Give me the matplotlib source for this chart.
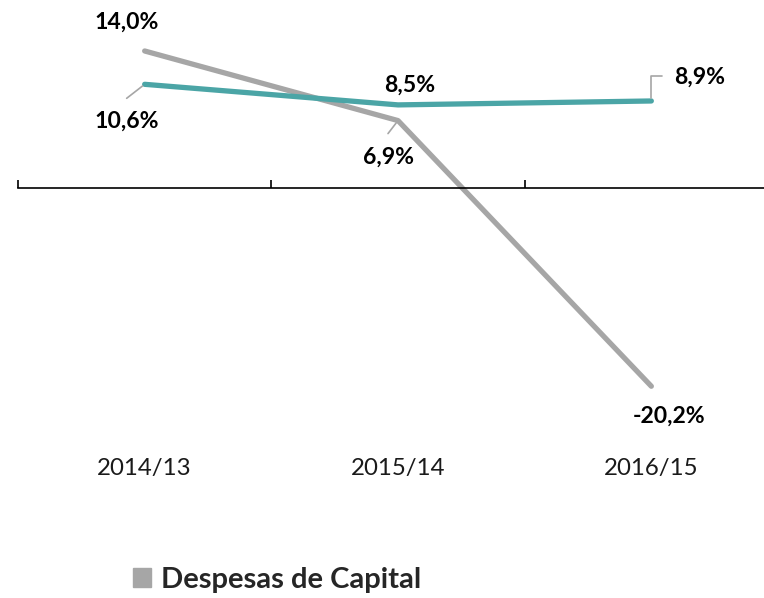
import matplotlib.pyplot as plt
import matplotlib.transforms as mtransforms
from matplotlib.patches import Patch

plt.rcParams['font.family'] = ['Lato', 'DejaVu Sans']

categories = ['2014/13', '2015/14', '2016/15']
correntes = [10.6, 8.5, 8.9]
capital = [14.0, 6.9, -20.2]
labels_correntes = ['10,6%', '8,5%', '8,9%']
labels_capital = ['14,0%', '6,9%', '-20,2%']

teal = '#4BA5A6'
gray = '#A6A6A6'

fig = plt.figure(figsize=(7.64, 5.98), dpi=100)
ax = fig.add_axes([18 / 764, 0, 760 / 764, 1])
x = list(range(len(categories)))

ax.plot(x, capital, color=gray, lw=3.8, solid_capstyle='round', clip_on=False)
ax.plot(x, correntes, color=teal, lw=3.8, solid_capstyle='round', clip_on=False)

ax.set_xlim(-0.5, 2.5)
ax.set_ylim(-41.8, 19.2)

for s in ['top', 'left', 'right']:
    ax.spines[s].set_visible(False)
ax.spines['bottom'].set_position(('data', 0))
ax.spines['bottom'].set_linewidth(1.2)
ax.set_xticks([-0.5, 0.5, 1.5, 2.5])
ax.set_xticklabels([])
ax.tick_params(axis='x', direction='in', length=6, width=1.2)
ax.set_yticks([])

# value labels (offsets in pixels)
lab_kw = dict(textcoords='offset pixels', ha='center', va='center',
              fontsize=16.6, fontweight='bold', color='black')
cap_off = [(-18, 29), (-10, -37), (18, -30)]
cor_off = [(-18, -37), (12, 20), (48, 24)]
for i in x:
    ax.annotate(labels_capital[i], (i, capital[i]), xytext=cap_off[i], **lab_kw)
    ax.annotate(labels_correntes[i], (i, correntes[i]), xytext=cor_off[i], **lab_kw)

# leader lines
lead = dict(arrowstyle='-', color=gray, lw=1.2, shrinkA=0, shrinkB=2)
ax.annotate('', (0, correntes[0]), xytext=(-18, -14), textcoords='offset pixels',
            arrowprops=lead)
ax.annotate('', (1, capital[1]), xytext=(-10, -13), textcoords='offset pixels',
            arrowprops=lead)
ax.annotate('', (2, correntes[2]), xytext=(11, 25), textcoords='offset pixels',
            arrowprops=dict(lead, connectionstyle='angle,angleA=0,angleB=90,rad=0'))

# category labels
trans = mtransforms.blended_transform_factory(ax.transData, ax.transAxes)
for i, c in enumerate(categories):
    ax.text(i, 1 - 469 / 598, c, transform=trans, ha='center', va='center',
            fontsize=17.3, color='#1a1a1a')

fig.legend(handles=[Patch(color=gray)], labels=['Despesas de Capital'],
           loc='center left', bbox_to_anchor=(133 / 764, 1 - 580 / 598),
           frameon=False, borderpad=0, borderaxespad=0,
           handlelength=0.6, handleheight=0.6, handletextpad=0.35,
           prop=dict(size=21, weight='bold'), labelcolor='#262626')

fig.savefig('out.png', dpi=100)
plt.close(fig)
